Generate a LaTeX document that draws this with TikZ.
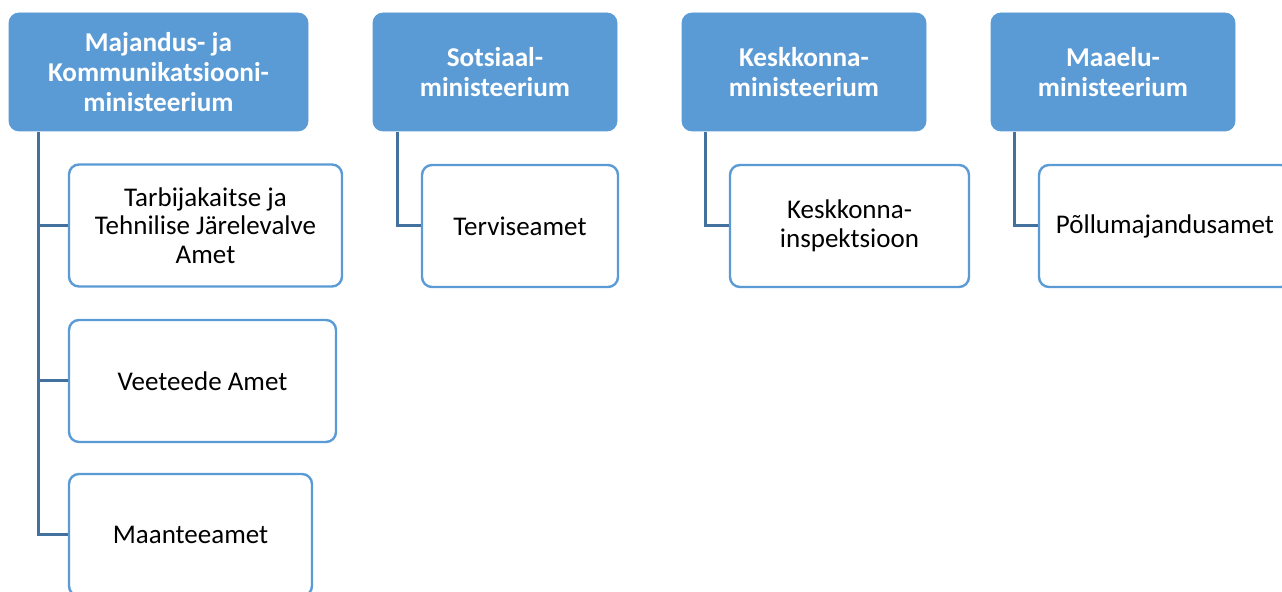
\documentclass[tikz,border=0pt]{standalone}
\usepackage{fontspec}
\setmainfont{Carlito}
\usepackage{tikz}
\usetikzlibrary{calc}
\definecolor{minblue}{HTML}{5B9BD5}
\definecolor{linkblue}{HTML}{41719C}

\begin{document}
\begin{tikzpicture}[x=0.5pt, y=-0.5pt,
    ministry/.style={fill=minblue, draw=minblue, rounded corners=5pt, text=white, align=center, minimum height=59pt, inner sep=2pt, font=\fontsize{13.6}{15.2}\selectfont\bfseries},
    agency/.style={fill=white, draw=minblue, line width=1.2pt, rounded corners=5pt, align=center, minimum height=61pt, inner sep=2pt, font=\fontsize{13.5}{14.2}\selectfont},
    link/.style={draw=linkblue, line width=1.5pt}]
                        \useasboundingbox (0,0) rectangle (1282,592);
                        \clip (0,0) rectangle (1282,592);
                        \node[ministry, minimum width=149.5pt] (MKM) at (158.5,72) {Majandus- ja\\Kommunikatsiooni-\\ministeerium};
                        \node[ministry, minimum width=122pt] (SOM) at (495,72) {Sotsiaal-\\ministeerium};
                        \node[ministry, minimum width=122pt] (KKM) at (804,72) {Keskkonna-\\ministeerium};
                        \node[ministry, minimum width=122pt] (MEM) at (1113,72) {Maaelu-\\ministeerium};
                        \node[agency, minimum width=136.5pt] (TJA) at (205.5,225.5) {Tarbijakaitse ja\\Tehnilise Järelevalve\\Amet};
                        \node[agency, minimum width=133.5pt] (VTA) at (202.5,381) {Veeteede Amet};
                        \node[agency, minimum width=121.5pt] (MNT) at (190.5,535) {Maanteeamet};
                        \node[agency, minimum width=98pt] (TA) at (520,226) {Terviseamet};
                        \node[agency, minimum width=119.5pt] (KKI) at (849.5,226) {Keskkonna-\\inspektsioon};
                        \node[agency, minimum width=126pt] (PMA) at (1165,226) {Põllumajandusamet};
                        \coordinate (mkm) at (38,132); \coordinate (som) at (397,132);
                        \coordinate (kkm) at (705,132); \coordinate (mem) at (1014,132);
                        \draw[link] (mkm) |- (TJA.west) (mkm) |- (VTA.west) (mkm) |- (MNT.west);
                        \draw[link] (som) |- (TA.west) (kkm) |- (KKI.west) (mem) |- (PMA.west);
                    \end{tikzpicture}
\end{document}
